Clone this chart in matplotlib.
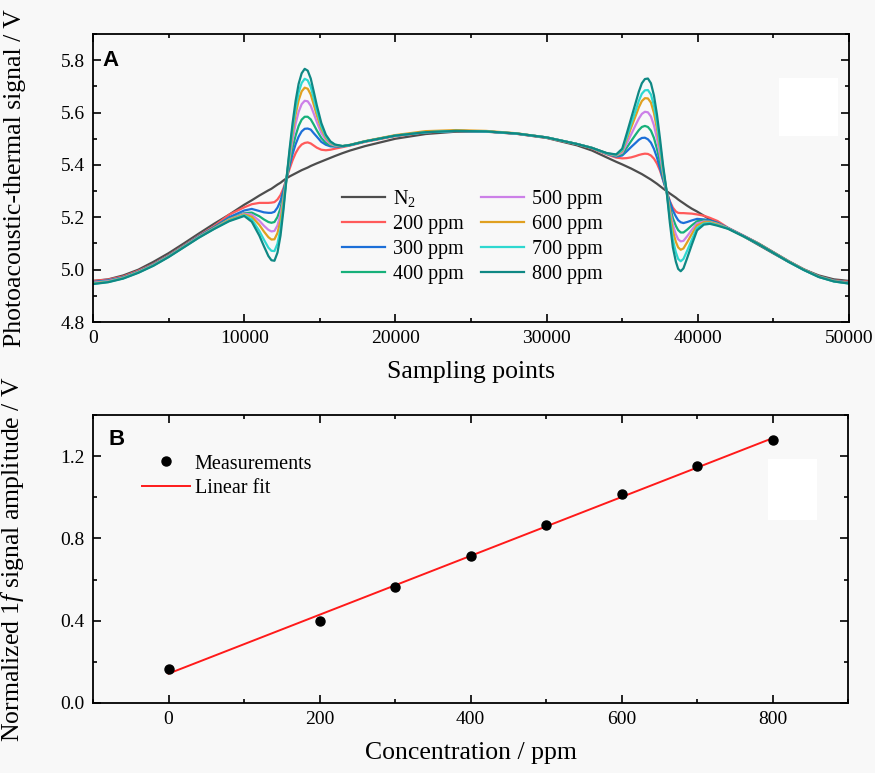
import matplotlib
matplotlib.use("Agg")
import matplotlib.pyplot as plt
import numpy as np
from matplotlib.ticker import MultipleLocator
from matplotlib.patches import Rectangle

plt.rcParams['font.family'] = ['Liberation Serif', 'DejaVu Serif']
plt.rcParams['mathtext.fontset'] = 'custom'
plt.rcParams['mathtext.rm'] = 'Liberation Serif'
plt.rcParams['mathtext.it'] = 'Liberation Serif:italic'

# ---- panel A: photoacoustic-thermal signal vs sampling points ----
points = [0, 1000, 2000, 3000, 4000, 5000, 6000, 7000, 8000, 9000,
          10000, 10500, 11000, 11300, 11600, 11800, 12000, 12200, 12400, 12600,
          12800, 13000, 13200, 13400, 13600, 13800, 14000, 14200, 14400, 14600,
          14800, 15100, 15400, 15700, 16000, 16500, 17000,
          18000, 20000, 22000, 24000, 26000, 28000, 30000, 32000, 33000,
          34000, 34600, 35000, 35300, 35600, 35900, 36100, 36300, 36500, 36700,
          36900, 37100, 37300, 37500, 37700, 37940, 38150, 38350, 38550, 38700,
          38870, 39050, 39300, 39600, 39950, 40400, 40800, 41300, 42000,
          43000, 44000, 45000, 46000, 47000, 48000, 49000, 50000]

sig_n2 = [4.957, 4.963, 4.978, 5.000, 5.030, 5.063, 5.100, 5.138, 5.175, 5.210,
          5.248, 5.265, 5.283, 5.293, 5.303, 5.309, 5.317, 5.325, 5.332, 5.341,
          5.349, 5.356, 5.362, 5.368, 5.374, 5.380, 5.385, 5.390, 5.396, 5.401,
          5.406, 5.413, 5.420, 5.427, 5.434, 5.445, 5.455,
          5.472, 5.500, 5.518, 5.527, 5.527, 5.519, 5.503, 5.475, 5.455,
          5.428, 5.412, 5.402, 5.394, 5.386, 5.377, 5.371, 5.365, 5.358, 5.351,
          5.344, 5.336, 5.328, 5.319, 5.310, 5.300, 5.291, 5.283, 5.275, 5.268,
          5.261, 5.254, 5.244, 5.233, 5.222, 5.206, 5.192, 5.180, 5.158,
          5.128, 5.095, 5.062, 5.030, 5.001, 4.978, 4.963, 4.957]

sig_200 = [4.957, 4.962, 4.974, 4.996, 5.022, 5.055, 5.092, 5.130, 5.166, 5.210,
           5.238, 5.250, 5.255, 5.255, 5.255, 5.256, 5.258, 5.268, 5.285, 5.312,
           5.349, 5.385, 5.418, 5.445, 5.465, 5.478, 5.484, 5.486, 5.482, 5.474,
           5.466, 5.458, 5.456, 5.458, 5.462, 5.468, 5.474,
           5.488, 5.510, 5.524, 5.530, 5.528, 5.519, 5.504, 5.479, 5.463,
           5.440, 5.428, 5.425, 5.426, 5.429, 5.434, 5.438, 5.441, 5.443, 5.442,
           5.436, 5.424, 5.405, 5.378, 5.342, 5.298, 5.262, 5.237, 5.222, 5.217,
           5.216, 5.216, 5.215, 5.214, 5.211, 5.206, 5.198, 5.186, 5.160,
           5.131, 5.101, 5.067, 5.033, 5.002, 4.975, 4.959, 4.954]

sig_300 = [4.953, 4.959, 4.971, 4.993, 5.020, 5.053, 5.090, 5.128, 5.162, 5.200,
           5.226, 5.232, 5.224, 5.219, 5.217, 5.217, 5.221, 5.237, 5.263, 5.303,
           5.349, 5.397, 5.442, 5.479, 5.508, 5.528, 5.538, 5.539, 5.535, 5.521,
           5.508, 5.488, 5.477, 5.471, 5.470, 5.471, 5.476,
           5.490, 5.512, 5.525, 5.530, 5.528, 5.520, 5.505, 5.480, 5.465,
           5.442, 5.432, 5.436, 5.452, 5.469, 5.485, 5.496, 5.503, 5.504, 5.498,
           5.485, 5.461, 5.428, 5.387, 5.344, 5.298, 5.259, 5.226, 5.203, 5.189,
           5.181, 5.178, 5.182, 5.188, 5.194, 5.192, 5.188, 5.179, 5.159,
           5.130, 5.100, 5.066, 5.032, 5.001, 4.974, 4.958, 4.951]

sig_400 = [4.951, 4.957, 4.970, 4.992, 5.019, 5.052, 5.089, 5.126, 5.160, 5.195,
           5.216, 5.218, 5.204, 5.192, 5.182, 5.179, 5.182, 5.201, 5.235, 5.288,
           5.349, 5.410, 5.466, 5.512, 5.549, 5.573, 5.584, 5.584, 5.574, 5.554,
           5.532, 5.503, 5.484, 5.475, 5.472, 5.471, 5.476,
           5.490, 5.512, 5.525, 5.530, 5.528, 5.520, 5.505, 5.480, 5.465,
           5.443, 5.434, 5.441, 5.466, 5.492, 5.517, 5.533, 5.545, 5.549, 5.545,
           5.531, 5.503, 5.461, 5.410, 5.355, 5.298, 5.243, 5.197, 5.167, 5.151,
           5.142, 5.142, 5.153, 5.169, 5.185, 5.188, 5.185, 5.177, 5.158,
           5.129, 5.100, 5.066, 5.032, 5.001, 4.974, 4.958, 4.950]

sig_500 = [4.950, 4.956, 4.969, 4.991, 5.018, 5.051, 5.088, 5.125, 5.158, 5.192,
           5.214, 5.210, 5.187, 5.168, 5.152, 5.146, 5.148, 5.169, 5.211, 5.274,
           5.349, 5.427, 5.497, 5.557, 5.603, 5.632, 5.645, 5.643, 5.626, 5.596,
           5.564, 5.522, 5.495, 5.480, 5.474, 5.471, 5.476,
           5.490, 5.512, 5.525, 5.530, 5.528, 5.520, 5.505, 5.480, 5.465,
           5.443, 5.436, 5.447, 5.482, 5.518, 5.554, 5.577, 5.595, 5.603, 5.601,
           5.585, 5.551, 5.500, 5.437, 5.369, 5.298, 5.228, 5.171, 5.135, 5.116,
           5.108, 5.110, 5.128, 5.152, 5.177, 5.184, 5.183, 5.175, 5.158,
           5.129, 5.099, 5.065, 5.031, 5.000, 4.973, 4.957, 4.949]

sig_600 = [4.948, 4.954, 4.968, 4.990, 5.017, 5.050, 5.087, 5.124, 5.157, 5.190,
           5.211, 5.202, 5.171, 5.146, 5.124, 5.115, 5.116, 5.140, 5.188, 5.262,
           5.349, 5.440, 5.523, 5.593, 5.647, 5.681, 5.695, 5.691, 5.669, 5.630,
           5.590, 5.538, 5.503, 5.484, 5.476, 5.472, 5.477,
           5.491, 5.514, 5.529, 5.533, 5.530, 5.521, 5.505, 5.480, 5.465,
           5.444, 5.438, 5.453, 5.498, 5.544, 5.589, 5.620, 5.644, 5.655, 5.654,
           5.638, 5.598, 5.538, 5.463, 5.382, 5.298, 5.215, 5.147, 5.106, 5.085,
           5.076, 5.081, 5.105, 5.136, 5.169, 5.181, 5.181, 5.173, 5.157,
           5.128, 5.099, 5.065, 5.031, 5.000, 4.973, 4.956, 4.948]

sig_700 = [4.946, 4.953, 4.967, 4.989, 5.016, 5.049, 5.086, 5.123, 5.156, 5.187,
           5.208, 5.192, 5.148, 5.115, 5.084, 5.072, 5.071, 5.099, 5.156, 5.244,
           5.349, 5.450, 5.540, 5.617, 5.677, 5.713, 5.729, 5.723, 5.698, 5.654,
           5.608, 5.548, 5.509, 5.487, 5.477, 5.472, 5.476,
           5.490, 5.512, 5.525, 5.530, 5.528, 5.520, 5.505, 5.480, 5.465,
           5.444, 5.439, 5.457, 5.507, 5.559, 5.610, 5.645, 5.672, 5.685, 5.686,
           5.669, 5.626, 5.561, 5.478, 5.389, 5.298, 5.196, 5.114, 5.066, 5.041,
           5.032, 5.041, 5.073, 5.114, 5.159, 5.176, 5.178, 5.170, 5.157,
           5.128, 5.098, 5.064, 5.030, 4.999, 4.972, 4.955, 4.947]

sig_800 = [4.945, 4.952, 4.966, 4.988, 5.015, 5.048, 5.085, 5.122, 5.155, 5.185,
           5.205, 5.183, 5.130, 5.090, 5.052, 5.036, 5.034, 5.065, 5.130, 5.230,
           5.349, 5.460, 5.560, 5.645, 5.710, 5.750, 5.767, 5.760, 5.730, 5.680,
           5.628, 5.560, 5.515, 5.490, 5.478, 5.472, 5.476,
           5.490, 5.512, 5.525, 5.530, 5.528, 5.520, 5.505, 5.480, 5.465,
           5.445, 5.440, 5.462, 5.520, 5.580, 5.640, 5.680, 5.712, 5.728, 5.730,
           5.712, 5.665, 5.592, 5.500, 5.400, 5.298, 5.180, 5.085, 5.030, 5.003,
           4.994, 5.005, 5.045, 5.095, 5.150, 5.172, 5.175, 5.168, 5.156,
           5.128, 5.098, 5.064, 5.030, 4.999, 4.972, 4.955, 4.947]

labels_a = ['N$_2$', '200 ppm', '300 ppm', '400 ppm',
            '500 ppm', '600 ppm', '700 ppm', '800 ppm']
colors_a = ['#4d4d4d', '#ff5a5a', '#1c6fd8', '#17b07a',
            '#cc80e8', '#e0a020', '#2ed8d0', '#0f8884']

# ---- panel B: normalized 1f amplitude vs concentration ----
conc = [0, 200, 300, 400, 500, 600, 700, 800]
amp = [0.163, 0.400, 0.565, 0.712, 0.865, 1.015, 1.150, 1.278]

bg = '#f8f8f8'
fig = plt.figure(figsize=(8.75, 7.73), dpi=100, facecolor=bg)
axA = fig.add_axes([0.1063, 0.5834, 0.864, 0.3726], facecolor=bg)
axB = fig.add_axes([0.1063, 0.0906, 0.8629, 0.3726], facecolor=bg)


def style_axis(ax):
    for s in ax.spines.values():
        s.set_linewidth(1.3)
    ax.tick_params(which='both', direction='in', top=True, right=True,
                   labelsize=14, width=1.2, pad=6)
    ax.tick_params(which='major', length=6)
    ax.tick_params(which='minor', length=3)


series = [sig_n2, sig_200, sig_300, sig_400, sig_500, sig_600, sig_700, sig_800]
for vals, lab, col in zip(series, labels_a, colors_a):
    axA.plot(points, vals, color=col, lw=1.6, label=lab,
             solid_joinstyle='round')

axA.set_xlim(0, 50000)
axA.set_ylim(4.8, 5.9)
axA.xaxis.set_major_locator(MultipleLocator(10000))
axA.xaxis.set_minor_locator(MultipleLocator(5000))
axA.yaxis.set_major_locator(MultipleLocator(0.2))
axA.yaxis.set_minor_locator(MultipleLocator(0.1))
axA.yaxis.set_major_formatter(plt.FuncFormatter(lambda v, p: f"{v:.1f}"))
style_axis(axA)
axA.set_xlabel('Sampling points', fontsize=18.5)
axA.set_ylabel('Photoacoustic-thermal signal / V', fontsize=18.5)
axA.yaxis.set_label_coords(-0.089, 0.5)
axA.xaxis.set_label_coords(0.5, -0.135)
axA.xaxis.label.set_va('top')
axA.text(0.012, 0.944, 'A', transform=axA.transAxes, ha='left', va='top',
         fontsize=16, fontweight='bold', family='Liberation Sans')
axA.legend(ncol=2, loc='upper left', bbox_to_anchor=(0.329, 0.466),
           frameon=False, fontsize=14.5, handlelength=2.15, handletextpad=0.4,
           columnspacing=0.85, labelspacing=0.3, borderpad=0, borderaxespad=0)
# blank white patch seen in the top-right of the original panel
axA.add_patch(Rectangle((0.907, 0.646), 0.078, 0.201, transform=axA.transAxes,
                        facecolor='white', edgecolor='none', zorder=0))

# panel B
axB.plot(conc, amp, 'o', color='black', ms=6.5, label='Measurements', zorder=3)
slope, icpt = np.polyfit(conc, amp, 1)
fit_x = np.array([conc[0], conc[-1]])
axB.plot(fit_x, slope * fit_x + icpt, color='#ff1a1a', lw=1.4, label='Linear fit')

axB.set_xlim(-100, 900)
axB.set_ylim(0, 1.4)
axB.xaxis.set_major_locator(MultipleLocator(200))
axB.xaxis.set_minor_locator(MultipleLocator(100))
axB.yaxis.set_major_locator(MultipleLocator(0.4))
axB.yaxis.set_minor_locator(MultipleLocator(0.2))
axB.yaxis.set_major_formatter(plt.FuncFormatter(lambda v, p: f"{v:.1f}"))
style_axis(axB)
axB.set_xlabel('Concentration / ppm', fontsize=18.5)
axB.set_ylabel('Normalized 1$\\it{f}$ signal amplitude / V', fontsize=18.5)
axB.yaxis.set_label_coords(-0.089, 0.5)
axB.xaxis.set_label_coords(0.5, -0.135)
axB.xaxis.label.set_va('top')
axB.text(0.02, 0.952, 'B', transform=axB.transAxes, ha='left', va='top',
         fontsize=16, fontweight='bold', family='Liberation Sans')
axB.legend(loc='upper left', bbox_to_anchor=(0.0653, 0.863), frameon=False,
           fontsize=14.5, handlelength=2.35, handletextpad=0.25,
           labelspacing=0.25, borderpad=0, borderaxespad=0)
axB.add_patch(Rectangle((0.894, 0.635), 0.065, 0.212, transform=axB.transAxes,
                        facecolor='white', edgecolor='none', zorder=0))

fig.savefig('out.png', dpi=100, facecolor=bg)
